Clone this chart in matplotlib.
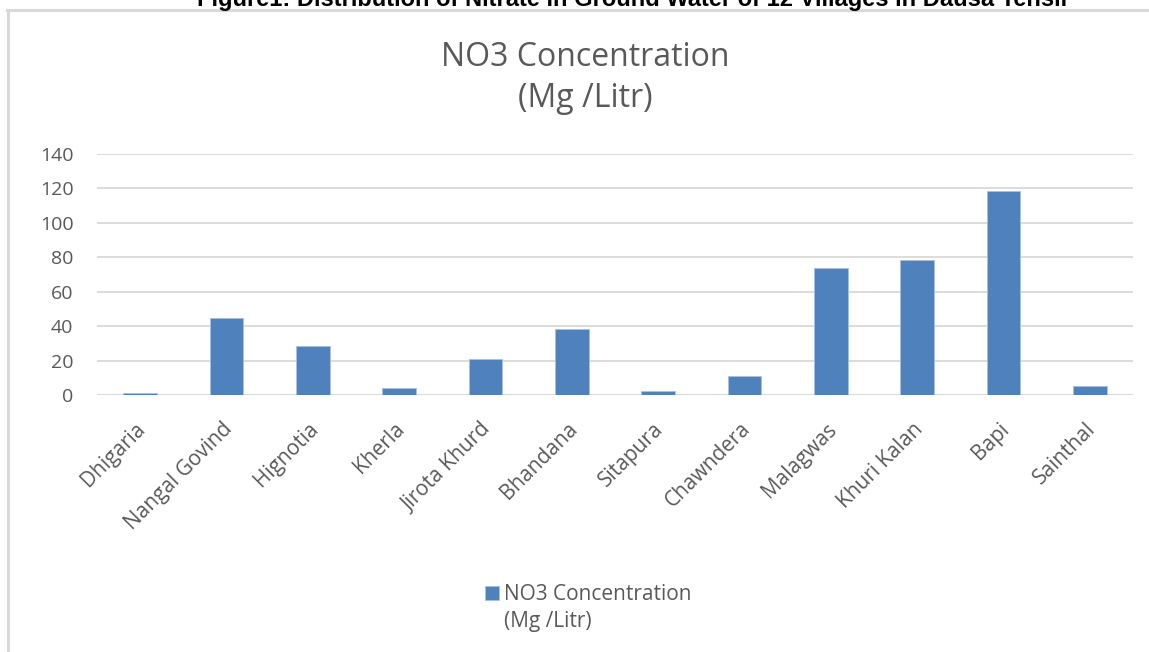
import matplotlib
matplotlib.use("Agg")
import matplotlib.pyplot as plt
import matplotlib.transforms as mtransforms
from matplotlib.lines import Line2D

villages = ["Dhigaria", "Nangal Govind", "Hignotia", "Kherla", "Jirota Khurd",
            "Bhandana", "Sitapura", "Chawndera", "Malagwas", "Khuri Kalan",
            "Bapi", "Sainthal"]
no3 = [1.0, 44.5, 28.5, 4.0, 21.0, 38.4, 2.3, 11.0, 73.5, 78.2, 118.5, 5.0]
yticks = [0, 20, 40, 60, 80, 100, 120, 140]
series_name = "NO3 Concentration"
series_unit = "(Mg /Litr)"
fig_caption = "Figure1: Distribution of Nitrate in Ground Water of 12 Villages in Dausa Tehsil"

FONT = ["Open Sans", "DejaVu Sans"]
TXT = "#595959"
BAR = "#4F81BD"
GRID = "#D9D9D9"

W, H = 1149, 652
fig = plt.figure(figsize=(W / 100, H / 100), dpi=100)
ax = fig.add_axes([97 / W, 1 - 395 / H, (1133 - 97) / W, (395 - 154) / H])

x = list(range(len(villages)))
ax.bar(x, no3, width=0.39, color=BAR, edgecolor="#A9C0DE", linewidth=0.6,
       label=series_name, zorder=3)
ax.set_xlim(-0.5, len(villages) - 0.5)
ax.set_ylim(0, 140)
ax.set_yticks(yticks)
ax.set_yticklabels([str(v) for v in yticks], fontsize=14, color=TXT, family=FONT)
ax.set_xticks(x)
ax.set_xticklabels(villages, rotation=45, ha="right", rotation_mode="anchor",
                   fontsize=15, color=TXT, family=FONT)
ax.tick_params(axis="both", length=0)
ax.tick_params(axis="y", pad=17)
ax.tick_params(axis="x", pad=17)
shift = mtransforms.ScaledTranslation(-5 / 100, 0, fig.dpi_scale_trans)
for lab in ax.get_xticklabels():
    lab.set_transform(lab.get_transform() + shift)
ax.grid(axis="y", color=GRID, linewidth=1.3, zorder=0)
for s in ax.spines.values():
    s.set_visible(False)
ax.axhline(0, color=GRID, linewidth=1.3, zorder=2)

fig.text(585 / W, 1 - 78 / H, "NO3 Concentration\n(Mg /Litr)", ha="center",
         va="center", fontsize=23, color=TXT, family=FONT, linespacing=1.35)

# caption cut off at top (as in the reference)
fig.text(632 / W, 1 - 6 / H, fig_caption, ha="center", va="baseline",
         fontsize=17, fontweight="bold", family=["Liberation Sans", "DejaVu Sans"],
         color="black")

# chart border
fig.add_artist(Line2D([7.5 / W, 7.5 / W], [0, 1 - 10 / H], color="#D9D9D9",
                      linewidth=2.2, transform=fig.transFigure))
fig.add_artist(Line2D([6.5 / W, 1.0], [1 - 10 / H, 1 - 10 / H], color="#D9D9D9",
                      linewidth=2.2, transform=fig.transFigure))

# legend: first line with handle, unit on the second line
leg = fig.legend(loc="center left", bbox_to_anchor=(485 / W, 1 - 595 / H), frameon=False,
                 prop={"family": FONT, "size": 15}, handlelength=0.67, handleheight=0.67,
                 handletextpad=0.25, labelcolor=TXT, borderpad=0, borderaxespad=0)
fig.text(504 / W, 1 - 622 / H, series_unit, ha="left", va="center",
         fontsize=15, color=TXT, family=FONT)

fig.savefig("out.png", dpi=100)
